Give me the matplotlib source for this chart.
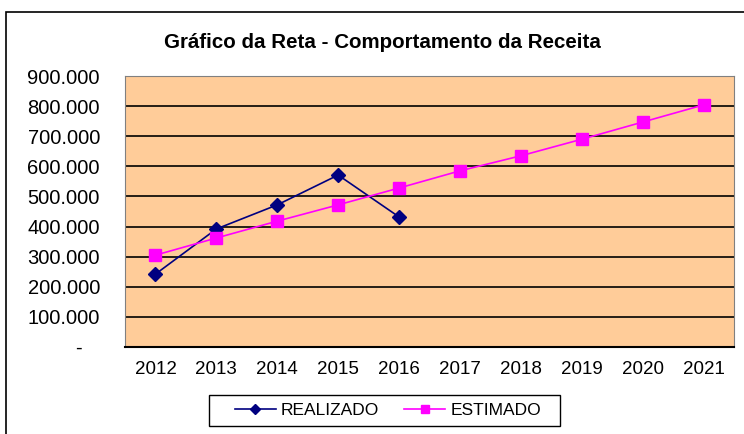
import matplotlib.pyplot as plt
from matplotlib.patches import Rectangle
from matplotlib.ticker import FuncFormatter, MultipleLocator

years = ['2012', '2013', '2014', '2015', '2016', '2017', '2018', '2019', '2020', '2021']
realizado = [242000, 392000, 472000, 571000, 432000]
estimado = [305000, 362000, 418000, 472000, 528000, 585000, 635000, 690000, 747000, 804000]

plt.rcParams['font.family'] = ['Liberation Sans', 'DejaVu Sans']

fig = plt.figure(figsize=(7.44, 4.34), dpi=100)
ax = fig.add_axes([125 / 744, 87 / 434, 609 / 744, 271 / 434])
ax.set_facecolor('#FFCC99')

x_real = list(range(len(realizado)))
x_est = list(range(len(estimado)))
ax.plot(x_real, realizado, color='#000080', lw=1.2, marker='D', ms=7,
        mfc='#000080', mec='#000080', label='REALIZADO', zorder=3)
ax.plot(x_est, estimado, color='#FF00FF', lw=1.2, marker='s', ms=8,
        mfc='#FF00FF', mec='#FF00FF', label='ESTIMADO', zorder=3)

ax.set_xlim(-0.5, len(years) - 0.5)
ax.set_ylim(0, 900000)
ax.set_xticks(x_est)
ax.set_xticklabels(years)
ax.yaxis.set_major_locator(MultipleLocator(100000))


def fmt(v, pos):
    if v == 0:
        return '-   '
    return f'{int(v):,}'.replace(',', '.')


ax.yaxis.set_major_formatter(FuncFormatter(fmt))
ax.tick_params(axis='y', length=0, labelsize=14.5, pad=18)
ax.tick_params(axis='x', length=0, labelsize=13.5, pad=10)
ax.grid(axis='y', color='black', lw=1.2)
ax.set_axisbelow(True)
for s in ['left', 'top', 'right']:
    ax.spines[s].set_color('#808080')
ax.spines['bottom'].set_color('black')
ax.spines['bottom'].set_linewidth(1.5)

fig.text(382 / 744, 1 - 42 / 434, 'Gráfico da Reta - Comportamento da Receita',
         ha='center', va='center', fontsize=14.8, fontweight='bold')

# legend without frame, box drawn separately (wider padding like Excel)
leg = fig.legend(loc='center', bbox_to_anchor=(388 / 744, 1 - 410 / 434), ncol=2,
                 frameon=False, fontsize=12.5, handlelength=2.35,
                 markerscale=0.75, handletextpad=0.3, columnspacing=1.45)
fig.patches.append(Rectangle((209 / 744, 1 - 426 / 434), 351 / 744, 31 / 434,
                             transform=fig.transFigure, fill=False,
                             edgecolor='black', lw=1.0))

# outer chart border
fig.patches.append(Rectangle((6 / 744, -0.05), 1.0, 1 - 12 / 434 + 0.05,
                             transform=fig.transFigure, fill=False,
                             edgecolor='black', lw=1.2))

fig.savefig('out.png', dpi=100)
